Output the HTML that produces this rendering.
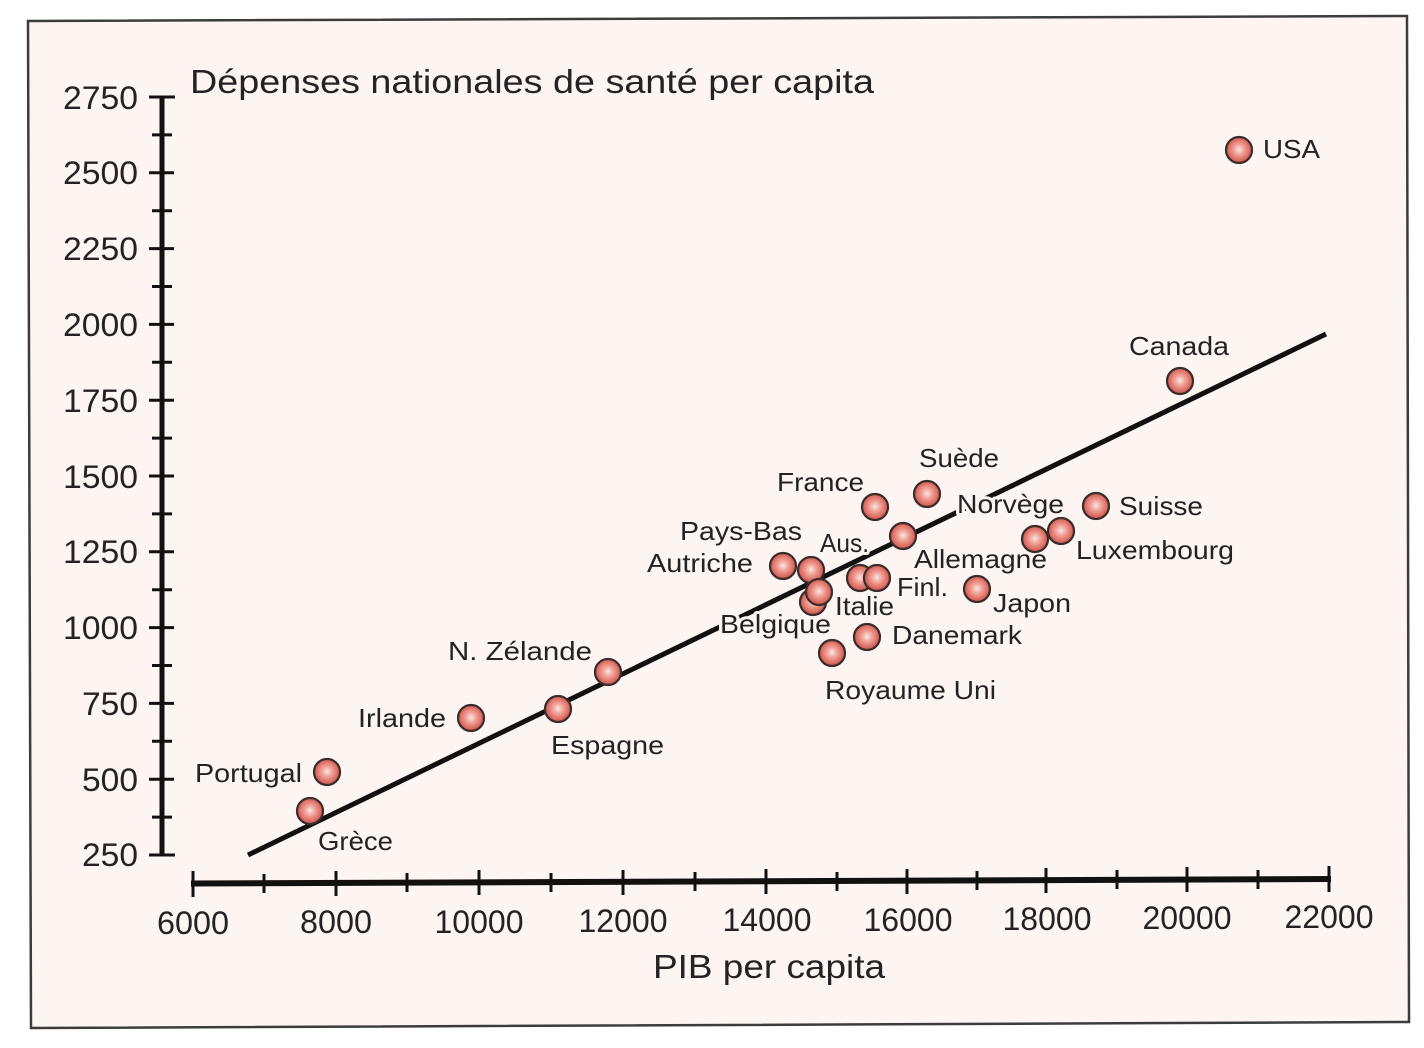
<!DOCTYPE html>
<html>
<head>
<meta charset="utf-8">
<style>
  html,body{margin:0;padding:0;background:#ffffff;}
  svg{display:block;}
  text{font-family:"Liberation Sans", Arial, sans-serif;fill:#232323;}
  .lab{font-size:26px;stroke:#fdf5f2;stroke-width:6px;paint-order:stroke;stroke-linejoin:round;}
  .tk{font-size:32px;}
</style>
</head>
<body>
<svg width="1424" height="1048" viewBox="0 0 1424 1048" xmlns="http://www.w3.org/2000/svg">
  <defs>
    <radialGradient id="ball" cx="50%" cy="48%" r="55%">
      <stop offset="0%" stop-color="#fde6e2"/>
      <stop offset="35%" stop-color="#f0a49b"/>
      <stop offset="75%" stop-color="#dc6a60"/>
      <stop offset="100%" stop-color="#c4504a"/>
    </radialGradient>
  </defs>
  <rect x="0" y="0" width="1424" height="1048" fill="#ffffff"/>
  <polygon points="28,21 1407,16 1409,1022 31,1028" fill="#fdf5f2" stroke="#3c3c3c" stroke-width="2.5"/>

  <!-- Y axis -->
  <g stroke="#111" stroke-linecap="butt">
    <line x1="162" y1="96" x2="162" y2="856" stroke-width="5"/>
    <g stroke-width="3">
      <line x1="149" y1="97" x2="175" y2="97"/>
      <line x1="149" y1="172.8" x2="174" y2="172.8"/>
      <line x1="149" y1="248.6" x2="174" y2="248.6"/>
      <line x1="149" y1="324.4" x2="174" y2="324.4"/>
      <line x1="149" y1="400.2" x2="174" y2="400.2"/>
      <line x1="149" y1="476" x2="174" y2="476"/>
      <line x1="149" y1="551.8" x2="174" y2="551.8"/>
      <line x1="149" y1="627.6" x2="174" y2="627.6"/>
      <line x1="149" y1="703.4" x2="174" y2="703.4"/>
      <line x1="149" y1="779.2" x2="174" y2="779.2"/>
      <line x1="149" y1="855" x2="175" y2="855"/>
      <line x1="152" y1="134.9" x2="172" y2="134.9"/>
      <line x1="152" y1="210.7" x2="172" y2="210.7"/>
      <line x1="152" y1="286.5" x2="172" y2="286.5"/>
      <line x1="152" y1="362.3" x2="172" y2="362.3"/>
      <line x1="152" y1="438.1" x2="172" y2="438.1"/>
      <line x1="152" y1="513.9" x2="172" y2="513.9"/>
      <line x1="152" y1="589.7" x2="172" y2="589.7"/>
      <line x1="152" y1="665.5" x2="172" y2="665.5"/>
      <line x1="152" y1="741.3" x2="172" y2="741.3"/>
      <line x1="152" y1="817.1" x2="172" y2="817.1"/>
    </g>
  </g>
  <!-- Y tick labels -->
  <g class="tk" text-anchor="end">
    <text x="138" y="109" textLength="75" lengthAdjust="spacingAndGlyphs">2750</text>
    <text x="138" y="184" textLength="75" lengthAdjust="spacingAndGlyphs">2500</text>
    <text x="138" y="260" textLength="75" lengthAdjust="spacingAndGlyphs">2250</text>
    <text x="138" y="336" textLength="75" lengthAdjust="spacingAndGlyphs">2000</text>
    <text x="138" y="412" textLength="75" lengthAdjust="spacingAndGlyphs">1750</text>
    <text x="138" y="488" textLength="75" lengthAdjust="spacingAndGlyphs">1500</text>
    <text x="138" y="563" textLength="75" lengthAdjust="spacingAndGlyphs">1250</text>
    <text x="138" y="639" textLength="75" lengthAdjust="spacingAndGlyphs">1000</text>
    <text x="138" y="715" textLength="56" lengthAdjust="spacingAndGlyphs">750</text>
    <text x="138" y="791" textLength="56" lengthAdjust="spacingAndGlyphs">500</text>
    <text x="138" y="866" textLength="56" lengthAdjust="spacingAndGlyphs">250</text>
  </g>

  <!-- X axis -->
  <g stroke="#111">
    <line x1="191" y1="883.5" x2="1331" y2="879" stroke-width="6"/>
    <g stroke-width="3">
      <line x1="193" y1="871" x2="193" y2="897"/>
      <line x1="336" y1="871" x2="336" y2="896"/>
      <line x1="479" y1="870" x2="479" y2="895"/>
      <line x1="623" y1="870" x2="623" y2="895"/>
      <line x1="766" y1="869" x2="766" y2="894"/>
      <line x1="907" y1="869" x2="907" y2="894"/>
      <line x1="1046" y1="868" x2="1046" y2="893"/>
      <line x1="1187" y1="867" x2="1187" y2="892"/>
      <line x1="1329" y1="866" x2="1329" y2="892"/>
      <line x1="264" y1="874" x2="264" y2="893"/>
      <line x1="407" y1="873" x2="407" y2="892"/>
      <line x1="551" y1="873" x2="551" y2="892"/>
      <line x1="695" y1="872" x2="695" y2="891"/>
      <line x1="837" y1="872" x2="837" y2="891"/>
      <line x1="977" y1="871" x2="977" y2="890"/>
      <line x1="1117" y1="870" x2="1117" y2="889"/>
      <line x1="1258" y1="870" x2="1258" y2="889"/>
    </g>
  </g>
  <!-- X tick labels -->
  <g class="tk" text-anchor="middle">
    <text x="193" y="934" textLength="72" lengthAdjust="spacingAndGlyphs">6000</text>
    <text x="336" y="933" textLength="72" lengthAdjust="spacingAndGlyphs">8000</text>
    <text x="479" y="933" textLength="89" lengthAdjust="spacingAndGlyphs">10000</text>
    <text x="623" y="932" textLength="89" lengthAdjust="spacingAndGlyphs">12000</text>
    <text x="767" y="931" textLength="89" lengthAdjust="spacingAndGlyphs">14000</text>
    <text x="908" y="931" textLength="89" lengthAdjust="spacingAndGlyphs">16000</text>
    <text x="1047" y="930" textLength="89" lengthAdjust="spacingAndGlyphs">18000</text>
    <text x="1187" y="929" textLength="89" lengthAdjust="spacingAndGlyphs">20000</text>
    <text x="1329" y="928" textLength="89" lengthAdjust="spacingAndGlyphs">22000</text>
  </g>

  <!-- Titles -->
  <text x="190" y="93" font-size="33" textLength="684" lengthAdjust="spacingAndGlyphs">Dépenses nationales de santé per capita</text>
  <text x="653" y="978" font-size="33" textLength="232" lengthAdjust="spacingAndGlyphs">PIB per capita</text>

  <!-- Regression line -->
  <line x1="248" y1="855" x2="1326" y2="334" stroke="#111" stroke-width="5"/>

  <!-- Labels -->
  <g class="lab">
    <text x="1263" y="158" textLength="57" lengthAdjust="spacingAndGlyphs">USA</text>
    <text x="1129" y="355" textLength="100" lengthAdjust="spacingAndGlyphs">Canada</text>
    <text x="919" y="467" textLength="80" lengthAdjust="spacingAndGlyphs">Suède</text>
    <text x="777" y="491" textLength="87" lengthAdjust="spacingAndGlyphs">France</text>
    <text x="957" y="513" textLength="107" lengthAdjust="spacingAndGlyphs">Norvège</text>
    <text x="1119" y="515" textLength="84" lengthAdjust="spacingAndGlyphs">Suisse</text>
    <text x="680" y="540" textLength="122" lengthAdjust="spacingAndGlyphs">Pays-Bas</text>
    <text x="820" y="552" textLength="49" lengthAdjust="spacingAndGlyphs">Aus.</text>
    <text x="1076" y="559" textLength="158" lengthAdjust="spacingAndGlyphs">Luxembourg</text>
    <text x="914" y="568" textLength="133" lengthAdjust="spacingAndGlyphs">Allemagne</text>
    <text x="647" y="572" textLength="106" lengthAdjust="spacingAndGlyphs">Autriche</text>
    <text x="897" y="596" textLength="51" lengthAdjust="spacingAndGlyphs">Finl.</text>
    <text x="993" y="612" textLength="78" lengthAdjust="spacingAndGlyphs">Japon</text>
    <text x="835" y="615" textLength="59" lengthAdjust="spacingAndGlyphs">Italie</text>
    <text x="720" y="633" textLength="111" lengthAdjust="spacingAndGlyphs">Belgique</text>
    <text x="892" y="644" textLength="130" lengthAdjust="spacingAndGlyphs">Danemark</text>
    <text x="825" y="699" textLength="171" lengthAdjust="spacingAndGlyphs">Royaume Uni</text>
    <text x="448" y="660" textLength="144" lengthAdjust="spacingAndGlyphs">N. Zélande</text>
    <text x="358" y="727" textLength="88" lengthAdjust="spacingAndGlyphs">Irlande</text>
    <text x="551" y="754" textLength="113" lengthAdjust="spacingAndGlyphs">Espagne</text>
    <text x="195" y="782" textLength="107" lengthAdjust="spacingAndGlyphs">Portugal</text>
    <text x="318" y="850" textLength="75" lengthAdjust="spacingAndGlyphs">Grèce</text>
  </g>

  <!-- Data points -->
  <g fill="url(#ball)" stroke="#3a2c2c" stroke-width="2.2">
    <circle cx="1239" cy="150" r="13"/>
    <circle cx="1180" cy="381" r="13"/>
    <circle cx="927" cy="494" r="13"/>
    <circle cx="875" cy="507" r="13"/>
    <circle cx="1096" cy="506" r="13"/>
    <circle cx="903" cy="536" r="13"/>
    <circle cx="1061" cy="531" r="13"/>
    <circle cx="1035" cy="539" r="13"/>
    <circle cx="783" cy="566" r="13"/>
    <circle cx="811" cy="570" r="13"/>
    <circle cx="813" cy="602" r="13"/>
    <circle cx="819" cy="592" r="13"/>
    <circle cx="860" cy="578" r="13"/>
    <circle cx="877" cy="578" r="13"/>
    <circle cx="977" cy="589" r="13"/>
    <circle cx="867" cy="637" r="13"/>
    <circle cx="832" cy="653" r="13"/>
    <circle cx="608" cy="672" r="13"/>
    <circle cx="471" cy="718" r="13"/>
    <circle cx="558" cy="709" r="13"/>
    <circle cx="327" cy="772" r="13"/>
    <circle cx="310" cy="811" r="13"/>
  </g>
</svg>
</body>
</html>
